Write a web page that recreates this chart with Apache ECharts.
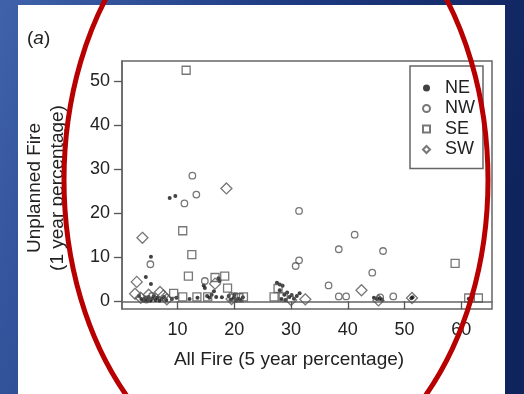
<!DOCTYPE html>
<html>
<head>
<meta charset="utf-8">
<script src="https://cdn.jsdelivr.net/npm/echarts@6/dist/echarts.min.js"></script>
<style>
html,body{margin:0;padding:0;}
#c{width:524px;height:394px;}
</style>
</head>
<body>
<div id="c"></div>
<script>
// ---- data (x = All Fire 5-year %, y = Unplanned Fire 1-year %) ----
var seriesNames = ['NE', 'NW', 'SE', 'SW'];
var xTicks = [10, 20, 30, 40, 50, 60];
var yTicks = [0, 10, 20, 30, 40, 50];

var dataNE = [
  [8.6,23.4],[9.6,23.9],[5.3,10.1],[5.3,3.9],[4.4,5.5],
  [3.2,1.2],[3.6,0.5],[4.0,0.2],[4.3,0.8],[4.6,0.3],[4.9,1.0],[5.2,0.2],[5.5,0.6],[5.8,1.2],[6.1,0.3],
  [6.4,0.8],[6.8,0.2],[7.2,0.6],[7.6,1.0],[8.0,0.3],[9.0,0.5],[9.8,0.8],
  [14.6,3.6],[14.8,3.0],[15.2,1.2],[15.6,0.8],[16.0,1.5],[16.4,2.3],[16.8,1.0],[17.2,5.2],[17.4,4.6],
  [17.8,0.9],[13.5,0.8],[12.1,0.5],
  [19.4,0.4],[19.9,0.8],[20.3,0.2],[20.7,0.6],[21.1,0.3],[21.5,0.9],[20.0,1.5],[19.0,1.2],
  [27.5,4.2],[28.0,3.8],[28.5,3.5],[28.0,2.5],[28.8,1.5],[29.3,2.0],[29.7,1.0],[30.1,1.4],[30.5,0.6],
  [31.0,1.2],[31.5,1.8],[28.3,0.5],[29.0,0.3],
  [44.6,0.8],[45.1,0.5],[45.6,0.7],[46.0,0.4],
  [51.2,0.7],[51.4,0.9],
  [61.3,0.6],[61.8,0.9]
];
var dataNW = [
  [12.6,28.5],[13.3,24.2],[11.2,22.2],[5.2,8.4],[31.4,20.5],[31.4,9.3],[30.8,8.0],[36.6,3.6],
  [38.4,11.8],[41.2,15.1],[46.2,11.4],[44.3,6.5],[38.4,1.1],[39.7,1.1],[48.0,1.1],[45.7,0.9],
  [14.8,4.6],[4.5,0.4],[5.5,1.2]
];
var dataSE = [
  [11.5,52.4],[10.9,16.0],[12.5,10.6],[11.9,5.7],[10.9,1.0],[13.4,1.0],[16.6,5.4],[18.3,5.7],
  [18.8,3.0],[19.8,1.0],[21.6,1.0],[27.0,1.0],[27.7,2.9],[28.6,1.0],[58.9,8.6],[61.3,0.75],
  [63.0,0.75],[15.3,1.0],[20.8,0.8],[9.3,1.8]
];
var dataSW = [
  [3.8,14.4],[18.6,25.6],[2.8,4.4],[2.5,1.7],[3.5,0.8],[4.9,1.5],[6.9,2.1],[7.5,1.3],[8.1,0.45],
  [16.6,4.0],[42.4,2.5],[32.5,0.45],[30.0,0.3],[45.4,0.2],[51.3,0.75],[19.5,0.5]
];

var FONT = '"Liberation Sans", Arial, Helvetica, sans-serif';
var INK = '#222';
var GRAY = '#555';

var chart = echarts.init(document.getElementById('c'));

function hollow(name, data, symbol, size) {
  return {
    name: name, type: 'scatter', data: data, symbol: symbol, symbolSize: size,
    itemStyle: { color: 'rgba(255,255,255,0)', borderColor: GRAY, borderWidth: 1.3 },
    emphasis: { disabled: true }
  };
}

var option = {
  backgroundColor: {
    type: 'linear', x: 0, y: 0, x2: 1, y2: 0.4,
    colorStops: [{ offset: 0, color: '#3f62ab' }, { offset: 0.5, color: '#1f3b82' }, { offset: 1, color: '#0f245d' }]
  },
  animation: false,
  graphic: [
    { type: 'rect', z: -5, silent: true, shape: { x: 18, y: 5, width: 487, height: 389 }, style: { fill: '#ffffff' } },
    { type: 'text', z: 5, x: 27, y: 39, style: {
        text: '({a|a})', font: '19px ' + FONT, fill: INK, verticalAlign: 'middle',
        rich: { a: { fontStyle: 'italic', fontSize: 19, fontFamily: FONT, fill: INK } }
      } },
    { type: 'text', z: 5, x: 46.5, y: 188, rotation: Math.PI / 2, style: {
        text: 'Unplanned Fire\n(1 year percentage)', font: '19px ' + FONT, lineHeight: 23,
        fill: INK, align: 'center', verticalAlign: 'middle'
      } },
    { type: 'text', z: 5, x: 289, y: 360, style: {
        text: 'All Fire (5 year percentage)', font: '19px ' + FONT, fill: INK,
        align: 'center', verticalAlign: 'middle'
      } },
    { type: 'ellipse', z: 100, silent: true, shape: { cx: 276, cy: 180, rx: 212, ry: 304 },
      style: { fill: 'none', stroke: '#b80000', lineWidth: 5 } }
  ],
  grid: { left: 122, top: 61, width: 370, height: 248, show: true, borderColor: '#666', borderWidth: 1.5, backgroundColor: 'transparent' },
  legend: {
    orient: 'vertical', left: 410, top: 66, padding: [13, 8, 10, 12],
    itemWidth: 7, itemHeight: 7, itemGap: 2.5, symbolKeepAspect: true,
    borderColor: '#666', borderWidth: 1.5, backgroundColor: '#fff',
    textStyle: { fontSize: 18, fontFamily: FONT, color: INK, lineHeight: 18, padding: [0, 0, 0, 10] },
    data: seriesNames, selectedMode: false
  },
  xAxis: {
    type: 'value', min: 0.2, max: 65.4,
    axisLine: { show: true, lineStyle: { color: '#666', width: 1.5 } },
    axisTick: { show: true, length: 8, customValues: xTicks, lineStyle: { color: GRAY, width: 1.3 } },
    axisLabel: { customValues: xTicks, fontSize: 18, fontFamily: FONT, color: INK, margin: 12 },
    splitLine: { show: false }
  },
  yAxis: {
    type: 'value', min: -1.75, max: 54.5,
    axisLine: { show: true, lineStyle: { color: '#666', width: 1.5 } },
    axisTick: { show: true, length: 8, customValues: yTicks, lineStyle: { color: GRAY, width: 1.3 } },
    axisLabel: { customValues: yTicks, fontSize: 18, fontFamily: FONT, color: INK, margin: 12 },
    splitLine: { show: false }
  },
  series: [
    { name: 'NE', type: 'scatter', data: dataNE, symbol: 'circle', symbolSize: 4,
      itemStyle: { color: '#111' }, emphasis: { disabled: true } },
    hollow('NW', dataNW, 'circle', 6.5),
    hollow('SE', dataSE, 'rect', 8),
    hollow('SW', dataSW, 'diamond', [11, 11])
  ]
};
chart.setOption(option);
</script>
</body>
</html>
